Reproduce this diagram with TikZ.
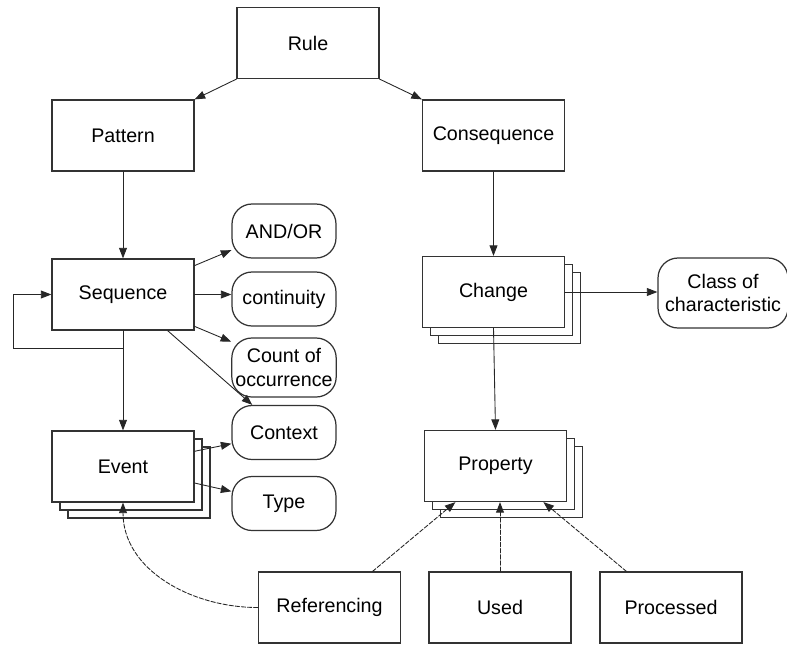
\documentclass[tikz,border=0pt]{standalone}
\usepackage{fontspec}
\setmainfont{Liberation Sans}
\usepackage{tikz}
\usetikzlibrary{arrows.meta,shadows}

\begin{document}
\begin{tikzpicture}[x=0.02cm, y=-0.02cm, line cap = round,
    every node/.style={font=\fontsize{11.2pt}{13.4pt}\selectfont, align=center, inner sep=2pt},
    box/.style={draw=black!80, line width=0.7pt, fill=white, minimum width=2.84cm, minimum height=1.42cm},
    stackbox/.style={box,
        copy shadow={shadow xshift=0.32cm, shadow yshift=-0.32cm, fill=white, draw=black!80, line width=0.7pt},
        copy shadow={shadow xshift=0.16cm, shadow yshift=-0.16cm, fill=white, draw=black!80, line width=0.7pt}},
    attr/.style={draw=black!80, line width=0.7pt, fill=white, rounded corners=0.4cm, minimum width=2.08cm, minimum height=1.08cm},
    arr/.style={-{Triangle[length=6pt, width=4.5pt]}, black!85, line width=0.5pt},
    darr/.style={arr, dash pattern=on 2.5pt off 1pt}]
            \useasboundingbox (0, 0) rectangle (787, 646);
            % top level
            \node[box] (rule) at (308, 43) {Rule};
            \node[box] (pattern) at (123, 135.5) {Pattern};
            \node[box] (cons) at (493.5, 135.5) {Consequence};
            % pattern side
            \node[box] (seq) at (123, 294.5) {Sequence};
            \node[stackbox] (event) at (123, 466.5) {Event};
            \node[attr] (andor) at (284, 231) {AND/OR};
            \node[attr] (cont) at (284, 299) {continuity};
            \node[attr, minimum height=1.18cm] (count) at (284, 367.5) {Count of\\occurrence};
            \node[attr] (ctx) at (284, 432.5) {Context};
            \node[attr] (type) at (284, 503.5) {Type};
            % consequence side
            \node[stackbox] (change) at (493.5, 292) {Change};
            \node[stackbox] (prop) at (495.5, 466) {Property};
            \node[attr, minimum width=2.6cm, minimum height=1.4cm] (class) at (723, 293) {Class of\\characteristic};
            % property sources
            \node[box] (ref) at (329.5, 607.5) {Referencing};
            \node[box] (used) at (500, 607.5) {Used};
            \node[box] (proc) at (671, 607.5) {Processed};
            \coordinate (loop) at (13, 348);
            % arrows from rule down
            \draw[arr] (rule.south west) -- (pattern.north east);
            \draw[arr] (rule.south east) -- (cons.north west);
            \draw[arr] (pattern.south) -- (seq.north);
            \draw[arr] (cons.south) -- (change.north);
            % sequence and event
            \draw[arr] (seq.south) |- (loop) |- (seq.west);
            \draw[arr] (seq.south) -- (event.north);
            \draw[arr] (seq.22) -- (andor.200);
            \draw[arr] (seq.east) -- (cont.west |- seq.east);
            \draw[arr] (seq.-24) -- (count.154);
            \draw[arr] (seq.-39.5) -- (ctx.139);
            \draw[arr] (event.12) -- (ctx.192.5);
            \draw[arr] (event.-13) -- (type.167);
            % change and property
            \draw[arr] (change.east) -- (class.west |- change.east);
            \draw[arr] (change.south) -- (prop.north);
            % dashed links
            \draw[darr] (ref.40) -- (prop.222);
            \draw[darr] (used.north) -- (used.north |- prop.south);
            \draw[darr] (proc.141) -- (prop.-37);
            \draw[darr] (ref.west) to[out=180, in=-90] (event.south);
        \end{tikzpicture}
\end{document}
